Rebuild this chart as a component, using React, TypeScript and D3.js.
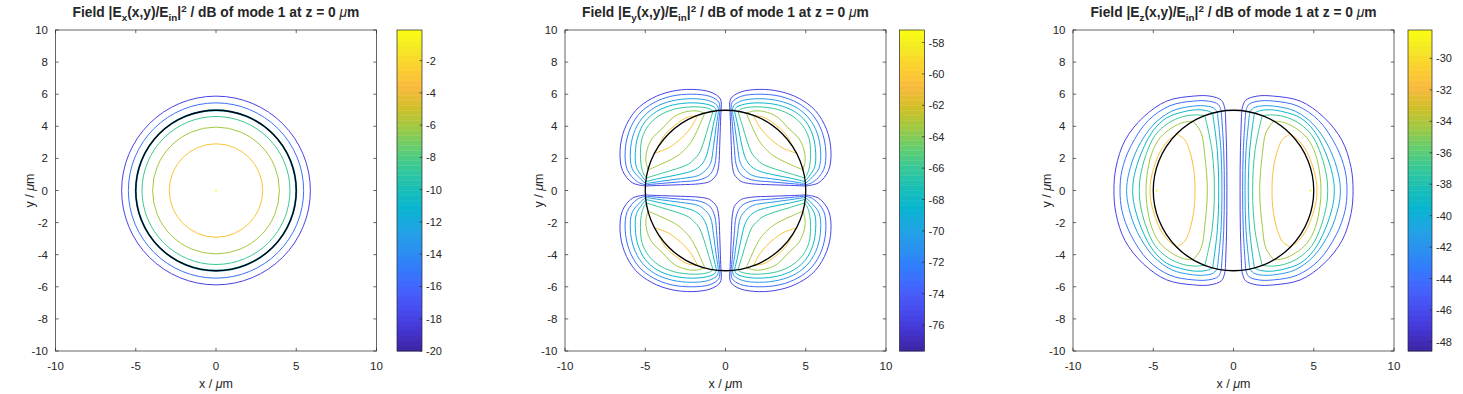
import React from 'react';
import * as d3 from 'd3';

// axis ticks, shared by the three panels
const X_TICKS = [-10, -5, 0, 5, 10];
const Y_TICKS = [-10, -8, -6, -4, -2, 0, 2, 4, 6, 8, 10];
const CORE_RADIUS = 5;

// old MATLAB parula, every 4th entry of the 64 colour table
const PARULA_IDX = [0, 4, 8, 12, 16, 20, 24, 28, 32, 36, 40, 44, 48, 52, 56, 60, 63];
const PARULA_RGB = [
  [0.2422, 0.1504, 0.6603], [0.2706, 0.2147, 0.8364], [0.2813, 0.3006, 0.9414],
  [0.2699, 0.3892, 0.9906], [0.1963, 0.4847, 0.9892], [0.1687, 0.5703, 0.9359],
  [0.1248, 0.6459, 0.8883], [0.0297, 0.7082, 0.8163], [0.0964, 0.75, 0.712],
  [0.2161, 0.7843, 0.5923], [0.3909, 0.8029, 0.4354], [0.6174, 0.7876, 0.2612],
  [0.8203, 0.7498, 0.1535], [0.9728, 0.7298, 0.2394], [0.9892, 0.8136, 0.1885],
  [0.9597, 0.9135, 0.1423], [0.9769, 0.9839, 0.0805],
];

// Ex panel: circular contours
const EX_RANGE = [-20, -0.1];
const EX_CB_TICKS = [-20, -18, -16, -14, -12, -10, -8, -6, -4, -2];
const EX_LEVELS = [-18, -15.5, -13, -11, -8.5, -6, -3];
const EX_RADII = [5.88, 5.46, 5.03, 4.97, 4.61, 3.95, 2.91];
const EX_PEAK = [[0, 0]];

// Ey panel: one lobe (x>0, y>0), mirrored into the other quadrants
const EY_RANGE = [-77.65, -57.2];
const EY_CB_TICKS = [-76, -74, -72, -70, -68, -66, -64, -62, -60, -58];
const EY_LEVELS = [-75.6, -73.1, -70.5, -68.4, -66, -63.3, -60.3];
const EY_INNER = [
  [[0.28, 4.97], [0.32, 4.0], [0.36, 2.8], [0.42, 1.6], [0.55, 1.0], [0.75, 0.75], [1.0, 0.55], [1.6, 0.42], [2.8, 0.36], [4.0, 0.32], [4.97, 0.28]],
  [[0.35, 4.97], [0.44, 4.0], [0.54, 2.8], [0.67, 1.6], [0.98, 0.98], [1.6, 0.67], [2.8, 0.54], [4.0, 0.44], [4.97, 0.35]],
  [[0.43, 4.96], [0.58, 4.0], [0.74, 2.8], [0.93, 1.7], [1.25, 1.25], [1.7, 0.93], [2.8, 0.74], [4.0, 0.58], [4.96, 0.43]],
  [[0.56, 4.95], [0.78, 4.0], [1.0, 2.9], [1.25, 2.0], [1.55, 1.55], [2.0, 1.25], [2.9, 1.0], [4.0, 0.78], [4.95, 0.56]],
  [[0.78, 4.92], [1.05, 4.05], [1.35, 3.05], [1.65, 2.3], [1.95, 1.95], [2.3, 1.65], [3.05, 1.35], [4.05, 1.05], [4.92, 0.78]],
  [[1.29, 4.81], [1.6, 4.1], [1.95, 3.35], [2.3, 2.8], [2.55, 2.55], [2.8, 2.3], [3.35, 1.95], [4.1, 1.6], [4.81, 1.29]],
  [[1.75, 4.66], [2.1, 4.0], [2.55, 3.45], [3.05, 3.0], [3.55, 2.65], [4.4, 2.33]],
];
const EY_OUTER = [
  [[0.28, 4.97], [0.32, 5.7], [0.9, 6.12], [2.1, 6.3], [3.4, 6.17], [4.6, 5.73], [5.6, 4.98], [6.3, 3.8], [6.57, 2.49], [6.42, 1.25], [5.8, 0.48], [4.97, 0.28]],
  [[0.35, 4.97], [0.42, 5.5], [0.95, 5.86], [2.1, 6.0], [3.4, 5.87], [4.5, 5.45], [5.4, 4.75], [6.0, 3.7], [6.25, 2.45], [6.12, 1.3], [5.5, 0.55], [4.97, 0.35]],
  [[0.43, 4.96], [0.52, 5.3], [1.05, 5.6], [2.1, 5.72], [3.35, 5.58], [4.4, 5.18], [5.2, 4.5], [5.72, 3.55], [5.93, 2.4], [5.82, 1.38], [5.3, 0.72], [4.96, 0.43]],
  [[0.56, 4.95], [0.68, 5.18], [1.2, 5.38], [2.15, 5.46], [3.3, 5.32], [4.3, 4.92], [5.0, 4.3], [5.45, 3.4], [5.62, 2.35], [5.55, 1.45], [5.2, 0.88], [4.95, 0.56]],
  [[0.78, 4.92], [0.95, 5.07], [1.55, 5.2], [2.3, 5.2], [3.25, 5.05], [4.15, 4.65], [4.8, 4.05], [5.2, 3.25], [5.3, 2.3], [5.25, 1.55], [5.08, 1.0], [4.92, 0.78]],
  [[1.29, 4.81], [1.75, 4.95], [2.4, 4.92], [3.2, 4.6], [3.9, 3.9], [4.6, 3.2], [4.92, 2.4], [4.95, 1.75], [4.81, 1.29]],
  [[1.75, 4.66], [2.4, 4.55], [3.1, 4.1], [3.75, 3.5], [4.4, 2.33]],
];

// Ez panel: right half, upper quarter (mirrored in y and x)
const EZ_RANGE = [-48.6, -28.2];
const EZ_CB_TICKS = [-48, -46, -44, -42, -40, -38, -36, -34, -32, -30];
const EZ_LEVELS = [-46.6, -44.1, -41.5, -39.3, -36.9, -34.3, -31.3];
const EZ_INNER = [
  [[0.51, 4.96], [0.43, 2.49], [0.41, 0]],
  [[0.76, 4.92], [0.61, 2.49], [0.57, 0]],
  [[1.01, 4.88], [0.78, 2.49], [0.72, 0]],
  [[1.3, 4.82], [1.01, 2.49], [0.92, 0]],
  [[1.78, 4.65], [1.34, 2.49], [1.19, 0]],
  [[2.5, 4.32], [2.02, 3.6], [1.8, 2.29], [1.63, 0]],
  [[3.54, 3.51], [3.07, 3.2], [2.74, 2.49], [2.47, 1.25], [2.4, 0]],
];
const EZ_OUTER = [
  [[0.51, 4.96], [0.74, 5.61], [1.46, 5.88], [2.5, 5.88], [4.16, 5.57], [5.62, 4.57], [6.76, 3.12], [7.32, 1.45], [7.45, 0]],
  [[0.76, 4.92], [0.95, 5.36], [1.57, 5.57], [2.5, 5.57], [3.96, 5.28], [5.31, 4.36], [6.41, 2.74], [6.95, 1.25], [7.07, 0]],
  [[1.01, 4.88], [1.26, 5.15], [1.88, 5.28], [2.71, 5.23], [3.85, 4.94], [5.0, 4.09], [5.99, 2.6], [6.53, 1.04], [6.66, 0]],
  [[1.3, 4.82], [1.67, 4.98], [2.3, 5.03], [3.13, 4.9], [4.16, 4.53], [5.0, 3.74], [5.72, 2.39], [6.18, 0.94], [6.28, 0]],
  [[1.78, 4.65], [2.3, 4.71], [3.13, 4.61], [4.06, 4.2], [4.89, 3.43], [5.47, 2.18], [5.81, 0.83], [5.87, 0]],
  [[2.5, 4.32], [3.13, 4.24], [3.85, 3.9], [4.58, 3.28], [5.1, 2.29], [5.39, 0.94], [5.45, 0]],
  [[3.54, 3.51], [4.06, 3.12], [4.58, 2.39], [4.95, 1.45], [5.16, 0.62], [5.2, 0]],
];
const EZ_PEAKS = [[4.79, 0], [-4.79, 0]];

const FONT = '"Liberation Sans", Arial, Helvetica, sans-serif';
const INK = '#262626';
const AXIS_TOP = 30;
const AXIS_SIZE = 321;

const parula = d3.scaleLinear<string>()
  .domain(PARULA_IDX.map((i) => i / 63))
  .range(PARULA_RGB.map(([r, g, b]) => d3.rgb(r * 255, g * 255, b * 255).formatHex()))
  .interpolate(d3.interpolateRgb)
  .clamp(true);

// mirror a half curve (ending on y = 0) into the full curve
const closeInY = (pts) => pts.concat(pts.slice(0, -1).reverse().map(([x, y]) => [x, -y]));

const Title = ({ cx, comp }) => (
  <text x={cx} y={17} textAnchor="middle" fontWeight="bold" fontSize={13.8} fill={INK} fontFamily={FONT}>
    Field |E<tspan dy={3.5} fontSize={9.8}>{comp}</tspan>
    <tspan dy={-3.5}>(x,y)/E</tspan>
    <tspan dy={3.5} fontSize={9.8}>in</tspan>
    <tspan dy={-3.5}>|</tspan>
    <tspan dy={-4.8} fontSize={9.8}>2</tspan>
    <tspan dy={4.8}>{' / dB of mode 1 at z = 0 '}</tspan>
    <tspan fontStyle="italic" fontWeight="normal">μ</tspan>
    <tspan>m</tspan>
  </text>
);

const Panel = ({ left, cbLeft, cbWidth, comp, range, cbTicks, draw }) => {
  const x = d3.scaleLinear().domain([-10, 10]).range([left, left + AXIS_SIZE]);
  const y = d3.scaleLinear().domain([-10, 10]).range([AXIS_TOP + AXIS_SIZE, AXIS_TOP]);
  const c = d3.scaleLinear().domain(range).range([AXIS_TOP + AXIS_SIZE, AXIS_TOP]);
  const color = (v) => parula((v - range[0]) / (range[1] - range[0]));
  const line = d3.line().x((d) => x(d[0])).y((d) => y(d[1])).curve(d3.curveCatmullRom.alpha(0.5));
  const bottom = AXIS_TOP + AXIS_SIZE;
  const tick = 3.2;
  const bands = d3.range(64);
  const bandH = AXIS_SIZE / 64;

  return (
    <g>
      <Title cx={(x(-10) + x(10)) / 2} comp={comp} />
      <rect x={x(-10)} y={y(10)} width={AXIS_SIZE} height={AXIS_SIZE} fill="#fff" />
      <g>{draw({ x, y, line, color })}</g>
      <circle cx={x(0)} cy={y(0)} r={x(CORE_RADIUS) - x(0)} fill="none" stroke="#000" strokeWidth={1.3} />
      <rect x={x(-10)} y={y(10)} width={AXIS_SIZE} height={AXIS_SIZE} fill="none" stroke={INK} strokeWidth={0.7} />
      {X_TICKS.map((t) => (
        <g key={'x' + t}>
          <line x1={x(t)} x2={x(t)} y1={bottom} y2={bottom - tick} stroke={INK} strokeWidth={0.7} />
          <line x1={x(t)} x2={x(t)} y1={AXIS_TOP} y2={AXIS_TOP + tick} stroke={INK} strokeWidth={0.7} />
          <text x={x(t)} y={bottom + 18.5} textAnchor="middle" fontSize={11.5} fill={INK} fontFamily={FONT}>{t}</text>
        </g>
      ))}
      {Y_TICKS.map((t) => (
        <g key={'y' + t}>
          <line x1={x(-10)} x2={x(-10) + tick} y1={y(t)} y2={y(t)} stroke={INK} strokeWidth={0.7} />
          <line x1={x(10)} x2={x(10) - tick} y1={y(t)} y2={y(t)} stroke={INK} strokeWidth={0.7} />
          <text x={x(-10) - 7.5} y={y(t) + 4} textAnchor="end" fontSize={11.5} fill={INK} fontFamily={FONT}>{t}</text>
        </g>
      ))}
      <text x={(x(-10) + x(10)) / 2} y={388} textAnchor="middle" fontSize={12.5} fill={INK} fontFamily={FONT}>
        x / <tspan fontStyle="italic">μ</tspan>m
      </text>
      <text transform={`translate(${x(-10) - 22},${y(0)}) rotate(-90)`} textAnchor="middle" fontSize={12.5} fill={INK} fontFamily={FONT}>
        y / <tspan fontStyle="italic">μ</tspan>m
      </text>
      {bands.map((i) => (
        <rect key={i} x={cbLeft} y={bottom - (i + 1) * bandH} width={cbWidth} height={bandH + 0.4} fill={parula(i / 63)} />
      ))}
      <rect x={cbLeft} y={AXIS_TOP} width={cbWidth} height={AXIS_SIZE} fill="none" stroke={INK} strokeWidth={0.7} />
      {cbTicks.map((t) => (
        <g key={'c' + t}>
          <line x1={cbLeft + cbWidth} x2={cbLeft + cbWidth - 2.5} y1={c(t)} y2={c(t)} stroke={INK} strokeWidth={0.7} />
          <text x={cbLeft + cbWidth + 4} y={c(t) + 4} fontSize={11} fill={INK} fontFamily={FONT}>{t}</text>
        </g>
      ))}
    </g>
  );
};

const drawEx = ({ x, y, color }) => (
  <>
    {EX_RADII.map((r, i) => (
      <circle key={i} cx={x(0)} cy={y(0)} r={x(r) - x(0)} fill="none" stroke={color(EX_LEVELS[i])} strokeWidth={1} />
    ))}
    {EX_PEAK.map(([px, py], i) => (
      <circle key={'p' + i} cx={x(px)} cy={y(py)} r={1} fill={color(-0.2)} />
    ))}
  </>
);

const QUADS = [[1, 1], [-1, 1], [1, -1], [-1, -1]];

const drawEy = ({ line, color }) => (
  <>
    {EY_LEVELS.map((lv, i) =>
      QUADS.map(([sx, sy], q) => (
        <g key={i + '-' + q} fill="none" stroke={color(lv)} strokeWidth={1}>
          <path d={line(EY_INNER[i].map(([px, py]) => [sx * px, sy * py]))} />
          <path d={line(EY_OUTER[i].map(([px, py]) => [sx * px, sy * py]))} />
        </g>
      ))
    )}
  </>
);

const drawEz = ({ x, y, line, color }) => (
  <>
    {EZ_LEVELS.map((lv, i) =>
      [1, -1].map((sx) => (
        <g key={i + '-' + sx} fill="none" stroke={color(lv)} strokeWidth={1}>
          <path d={line(closeInY(EZ_INNER[i]).map(([px, py]) => [sx * px, py]))} />
          <path d={line(closeInY(EZ_OUTER[i]).map(([px, py]) => [sx * px, py]))} />
        </g>
      ))
    )}
    {EZ_PEAKS.map(([px, py], i) => (
      <circle key={'p' + i} cx={x(px)} cy={y(py)} r={1} fill={color(-28.4)} />
    ))}
  </>
);

export default function App() {
  return (
    <svg width={1463} height={394} style={{ position: 'absolute', left: 0, top: 0, background: '#fff' }}>
      <rect width={1463} height={394} fill="#fff" />
      <Panel left={55.5} cbLeft={397} cbWidth={25} comp="x" range={EX_RANGE} cbTicks={EX_CB_TICKS} draw={drawEx} />
      <Panel left={565} cbLeft={899.5} cbWidth={25} comp="y" range={EY_RANGE} cbTicks={EY_CB_TICKS} draw={drawEy} />
      <Panel left={1073} cbLeft={1408} cbWidth={24} comp="z" range={EZ_RANGE} cbTicks={EZ_CB_TICKS} draw={drawEz} />
    </svg>
  );
}
